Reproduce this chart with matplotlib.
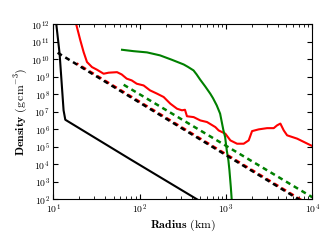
import numpy as np
import matplotlib
matplotlib.use('Agg')
from matplotlib import pyplot as plt

# =============================================================================
# DATA (log10 radius in km, log10 density in g/cm^3)
# =============================================================================
black_logr = [1.02, 1.035, 1.073, 1.119, 1.139, 1.892, 2.665]
black_logrho = [12.3, 12.0, 10.33, 7.09, 6.55, 4.29, 2.0]

red_logr = [1.25, 1.313, 1.351, 1.390, 1.448, 1.506, 1.583, 1.641, 1.738, 1.792,
            1.850, 1.908, 1.966, 2.046, 2.120, 2.202, 2.278, 2.355, 2.433, 2.490,
            2.525, 2.548, 2.626, 2.703, 2.780, 2.877, 2.915, 2.993, 3.051, 3.128,
            3.205, 3.263, 3.302, 3.379, 3.476, 3.553, 3.592, 3.630, 3.669, 3.708,
            3.824, 3.998]
red_logrho = [12.3, 11.09, 10.42, 9.85, 9.56, 9.41, 9.18, 9.24, 9.27, 9.14,
              8.90, 8.80, 8.61, 8.51, 8.23, 8.04, 7.85, 7.47, 7.18, 7.09,
              7.12, 6.75, 6.70, 6.51, 6.42, 6.13, 5.94, 5.75, 5.37, 5.18,
              5.18, 5.37, 5.90, 6.00, 6.07, 6.07, 6.23, 6.33, 5.94, 5.66,
              5.47, 5.05]

green_logr = [1.796, 1.930, 2.085, 2.236, 2.372, 2.510, 2.56, 2.624, 2.66, 2.70,
              2.76, 2.818, 2.85, 2.893, 2.932, 2.952, 2.97, 2.990, 3.009, 3.028,
              3.040, 3.056, 3.067]
green_logrho = [10.55, 10.47, 10.40, 10.23, 9.98, 9.71, 9.57, 9.37, 9.14, 8.85,
                8.45, 8.04, 7.78, 7.37, 6.90, 6.40, 5.95, 5.56, 4.80, 4.23,
                3.66, 2.70, 1.94]

# power-law fits, end points only
black_fit_logr = [1.05, 4.0]
black_fit_logrho = [10.38, 1.53]
red_fit_logr = [1.27, 4.0]
red_fit_logrho = [9.77, 1.58]
green_fit_logr = [1.815, 4.0]
green_fit_logrho = [8.55, 2.12]

# =============================================================================
# PLOT
# =============================================================================
plt.rcParams['font.family'] = 'serif'
plt.rcParams['font.serif'] = ['cmr10']
plt.rcParams['mathtext.fontset'] = 'cm'
plt.rcParams['axes.unicode_minus'] = False
plt.rcParams['axes.formatter.use_mathtext'] = True

fig = plt.figure(figsize=(3.25, 2.44), dpi=100)
ax = fig.add_axes([0.164, 0.183, 0.797, 0.717])

def lin(v):
    return 10 ** np.array(v)

ax.plot(lin(black_logr), lin(black_logrho), color='black', lw=1.5)
ax.plot(lin(red_logr), lin(red_logrho), color='red', lw=1.5)
ax.plot(lin(green_logr), lin(green_logrho), color='green', lw=1.5)
ax.plot(lin(green_fit_logr), lin(green_fit_logrho), color='green', lw=1.8,
        linestyle=(0, (2.0, 1.6)))
ax.plot(lin(red_fit_logr), lin(red_fit_logrho), color='red', lw=1.8,
        linestyle=(1.2, (2.0, 1.6)))
ax.plot(lin(black_fit_logr), lin(black_fit_logrho), color='black', lw=1.8,
        linestyle=(0, (2.0, 1.6)))

ax.set_xscale('log')
ax.set_yscale('log')
ax.set_xlim(10, 1e4)
ax.set_ylim(1e2, 1e12)
ax.set_yticks([10.0 ** k for k in range(2, 13)])
ax.tick_params(which='both', direction='in', top=True, right=True, labelsize=7, pad=2.5)
ax.tick_params(which='major', length=3.5)
ax.tick_params(which='minor', length=2)

ax.set_xlabel(r'$\mathbf{Radius}$ $(\mathrm{km})$', fontsize=8.5, labelpad=1)
ax.set_ylabel(r'$\mathbf{Density}$ $(\mathrm{g\,cm^{-3}})$', fontsize=8.5, labelpad=1)

fig.savefig('out.png', dpi=100)
